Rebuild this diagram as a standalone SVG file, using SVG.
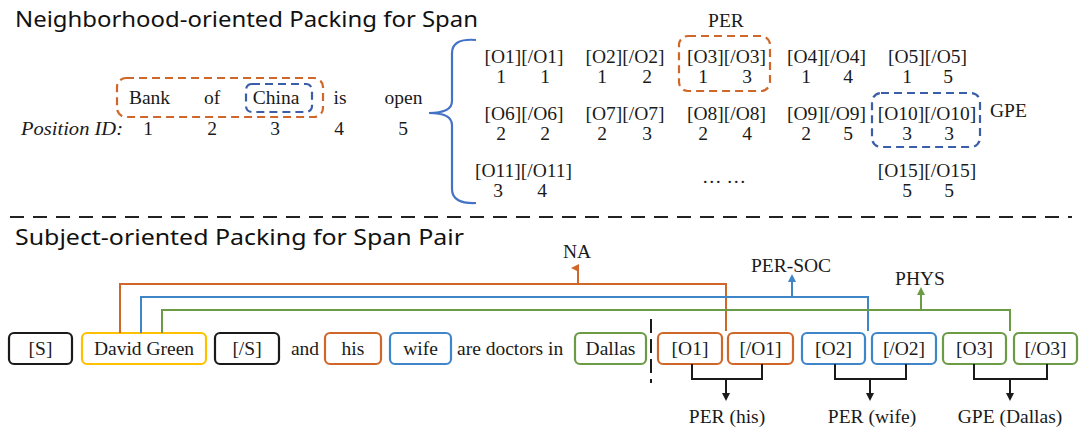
<svg xmlns="http://www.w3.org/2000/svg" width="1080" height="440" viewBox="0 0 1080 440">
<style>
.t{font-family:"Liberation Serif","Times New Roman",serif;font-size:19.5px;fill:#1a1a1a}
.c{text-anchor:middle}
.h{font-family:"Segoe Print","Comic Sans MS","Noto Sans","DejaVu Sans",sans-serif;font-size:22px;fill:#111}
.box{fill:#fff;stroke-width:2.2}
.k{stroke:#1a1a1a}.o{stroke:#D0672A}.b{stroke:#3F86C9}.g{stroke:#6B9B45}.y{stroke:#FFC000}
.ln{fill:none;stroke-width:2}
.dsh{fill:none;stroke-width:2.2;stroke-dasharray:8 5}
</style>
<defs>
<marker id="ao" markerWidth="8" markerHeight="8" refX="4" refY="7" orient="auto-start-reverse" markerUnits="userSpaceOnUse" viewBox="0 0 8 8"><path d="M0,8 L4,0 L8,8 Z" fill="#D0672A"/></marker>
<marker id="ab" markerWidth="8" markerHeight="8" refX="4" refY="7" markerUnits="userSpaceOnUse" viewBox="0 0 8 8"><path d="M0,8 L4,0 L8,8 Z" fill="#3F86C9"/></marker>
<marker id="ag" markerWidth="8" markerHeight="8" refX="4" refY="7" markerUnits="userSpaceOnUse" viewBox="0 0 8 8"><path d="M0,8 L4,0 L8,8 Z" fill="#6B9B45"/></marker>
<marker id="ak" markerWidth="8" markerHeight="8" refX="4" refY="7" markerUnits="userSpaceOnUse" viewBox="0 0 8 8"><path d="M0,0 L4,8 L8,0 Z" fill="#1a1a1a" transform="rotate(180 4 4)"/></marker>
</defs>

<!-- Titles -->
<text class="h" x="15" y="27" textLength="463" lengthAdjust="spacingAndGlyphs">Neighborhood-oriented Packing for Span</text>
<line x1="10" y1="217" x2="1072" y2="217" stroke="#222" stroke-width="2" stroke-dasharray="14 9"/>
<text class="h" x="15" y="245" textLength="449" lengthAdjust="spacingAndGlyphs">Subject-oriented Packing for Span Pair</text>

<!-- Top sentence -->
<g id="sentence">
<rect class="dsh o" x="117" y="78" width="206" height="39" rx="9"/>
<rect class="dsh" stroke="#3A5FA8" x="246" y="84" width="66" height="28" rx="6"/>
<text class="t c" x="149.5" y="104">Bank</text>
<text class="t c" x="212" y="104">of</text>
<text class="t c" x="276" y="104">China</text>
<text class="t c" x="340" y="104">is</text>
<text class="t c" x="403.5" y="104">open</text>
<text class="t" x="21" y="135" font-style="italic" textLength="102" lengthAdjust="spacingAndGlyphs">Position ID:</text>
<text class="t c" x="148" y="135">1</text>
<text class="t c" x="212" y="135">2</text>
<text class="t c" x="275" y="135">3</text>
<text class="t c" x="339" y="135">4</text>
<text class="t c" x="403" y="135">5</text>
</g>

<g id="brace">
<path d="M476,40 Q452,38 452,53 L452,101 Q452,113 429,113 Q452,113 452,125 L452,189 Q452,204 476,203" fill="none" stroke="#4472C4" stroke-width="2.2"/>
</g>

<!-- Grid -->
<g id="grid">
<rect class="dsh o" x="679" y="36" width="91" height="55" rx="9"/>
<text class="t c" x="726" y="27">PER</text>
<rect class="dsh" stroke="#3A5FA8" x="872" y="93" width="108" height="54" rx="9"/>
<text class="t" x="990" y="117">GPE</text>

<text class="t c" x="524" y="63">[O1][/O1]</text><text class="t c" x="501" y="83">1</text><text class="t c" x="545" y="83">1</text>
<text class="t c" x="625" y="63">[O2][/O2]</text><text class="t c" x="602" y="83">1</text><text class="t c" x="647" y="83">2</text>
<text class="t c" x="726.5" y="63">[O3][/O3]</text><text class="t c" x="703" y="83">1</text><text class="t c" x="747" y="83">3</text>
<text class="t c" x="826.5" y="63">[O4][/O4]</text><text class="t c" x="806" y="83">1</text><text class="t c" x="848" y="83">4</text>
<text class="t c" x="927.5" y="63">[O5][/O5]</text><text class="t c" x="907" y="83">1</text><text class="t c" x="948" y="83">5</text>

<text class="t c" x="524" y="120">[O6][/O6]</text><text class="t c" x="501" y="140">2</text><text class="t c" x="545" y="140">2</text>
<text class="t c" x="625" y="120">[O7][/O7]</text><text class="t c" x="602" y="140">2</text><text class="t c" x="647" y="140">3</text>
<text class="t c" x="726.5" y="120">[O8][/O8]</text><text class="t c" x="703" y="140">2</text><text class="t c" x="747" y="140">4</text>
<text class="t c" x="826.5" y="120">[O9][/O9]</text><text class="t c" x="806" y="140">2</text><text class="t c" x="848" y="140">5</text>
<text class="t c" x="927" y="120">[O10][/O10]</text><text class="t c" x="907" y="140">3</text><text class="t c" x="949" y="140">3</text>

<text class="t c" x="523.5" y="177">[O11][/O11]</text><text class="t c" x="498" y="197">3</text><text class="t c" x="542" y="197">4</text>
<text class="t c" x="724" y="183">… …</text>
<text class="t c" x="927" y="177">[O15][/O15]</text><text class="t c" x="907" y="197">5</text><text class="t c" x="949" y="197">5</text>
</g>

<!-- Bottom tokens -->
<g id="n-s"><rect class="box k" x="9" y="333" width="63" height="31" rx="5"/><text class="t c" x="40.5" y="355">[S]</text></g>
<g id="n-david"><rect class="box y" x="82" y="333" width="124" height="31" rx="5"/><text class="t c" x="144" y="355">David Green</text></g>
<g id="n-es"><rect class="box k" x="215" y="333" width="64" height="31" rx="5"/><text class="t c" x="247" y="355">[/S]</text></g>
<text class="t c" x="305" y="355">and</text>
<g id="n-his"><rect class="box o" x="325" y="333" width="56" height="31" rx="5"/><text class="t c" x="353" y="355">his</text></g>
<g id="n-wife"><rect class="box b" x="390" y="333" width="61" height="31" rx="5"/><text class="t c" x="420.5" y="355">wife</text></g>
<text class="t" x="457" y="355">are doctors in</text>
<g id="n-dallas"><rect class="box g" x="575" y="333" width="71" height="31" rx="5"/><text class="t c" x="610.5" y="355">Dallas</text></g>
<line x1="651" y1="319" x2="651" y2="383" stroke="#1a1a1a" stroke-width="2" stroke-dasharray="14 6"/>
<g id="n-o1"><rect class="box o" x="658" y="333" width="64" height="31" rx="5"/><text class="t c" x="690" y="355">[O1]</text></g>
<g id="n-co1"><rect class="box o" x="728" y="333" width="65" height="31" rx="5"/><text class="t c" x="760.5" y="355">[/O1]</text></g>
<g id="n-o2"><rect class="box b" x="802" y="333" width="63" height="31" rx="5"/><text class="t c" x="833.5" y="355">[O2]</text></g>
<g id="n-co2"><rect class="box b" x="872" y="333" width="64" height="31" rx="5"/><text class="t c" x="904" y="355">[/O2]</text></g>
<g id="n-o3"><rect class="box g" x="943" y="333" width="63" height="31" rx="5"/><text class="t c" x="974.5" y="355">[O3]</text></g>
<g id="n-co3"><rect class="box g" x="1014" y="333" width="63" height="31" rx="5"/><text class="t c" x="1045.5" y="355">[/O3]</text></g>

<!-- Connectors -->
<g id="connectors">
<polyline class="ln o" points="120,333 120,284 726,284 726,331"/>
<polyline class="ln b" points="141,333 141,297 868,297 868,331"/>
<polyline class="ln g" points="162,333 162,310 1010,310 1010,331"/>
<line class="ln o" x1="578" y1="284" x2="578" y2="268" marker-end="url(#ao)"/>
<line class="ln b" x1="792" y1="297" x2="792" y2="281" marker-end="url(#ab)"/>
<line class="ln g" x1="921" y1="310" x2="921" y2="294" marker-end="url(#ag)"/>

<polyline class="ln k" points="692,364 692,379 762,379 762,364"/>
<line class="ln k" x1="726" y1="379" x2="726" y2="393"/>
<path d="M722,393 L730,393 L726,401 Z" fill="#1a1a1a"/>
<polyline class="ln k" points="835,364 835,379 906,379 906,364"/>
<line class="ln k" x1="870" y1="379" x2="870" y2="393"/>
<path d="M866,393 L874,393 L870,401 Z" fill="#1a1a1a"/>
<polyline class="ln k" points="974,364 974,379 1047,379 1047,364"/>
<line class="ln k" x1="1010" y1="379" x2="1010" y2="393"/>
<path d="M1006,393 L1014,393 L1010,401 Z" fill="#1a1a1a"/>
</g>

<!-- Labels -->
<text class="t c" x="577" y="258">NA</text>
<text class="t c" x="791" y="272">PER-SOC</text>
<text class="t c" x="920" y="285">PHYS</text>
<text class="t c" x="727" y="423">PER (his)</text>
<text class="t c" x="872" y="423">PER (wife)</text>
<text class="t c" x="1010" y="423">GPE (Dallas)</text>
</svg>
